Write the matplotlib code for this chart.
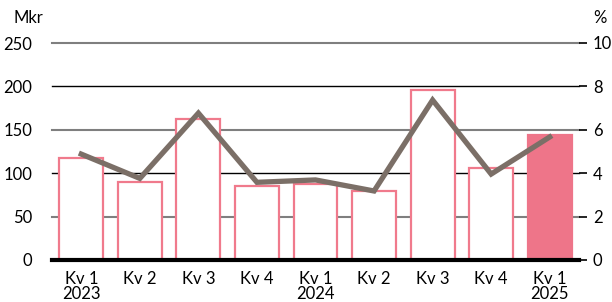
import matplotlib

matplotlib.use("Agg")
import matplotlib.pyplot as plt
import numpy as np

plt.rcParams["font.family"] = ["Lato", "DejaVu Sans"]

# Data
quarters = ["Kv 1\n2023", "Kv 2", "Kv 3", "Kv 4", "Kv 1\n2024",
            "Kv 2", "Kv 3", "Kv 4", "Kv 1\n2025"]
result_mkr = [117, 89.5, 162, 85.5, 87, 80, 196, 106, 144]   # bars, left axis
share_pct = [4.88, 3.76, 6.77, 3.58, 3.69, 3.18, 7.37, 3.96, 5.67]  # line, right axis
highlight = [False] * 8 + [True]

left_ticks = [0, 50, 100, 150, 200, 250]
right_ticks = [0, 2, 4, 6, 8, 10]

PINK = "#f07a8c"
PINK_FILL = "#ee7589"
LINE = "#7b6f67"
GRID_GRAY = "#7f7f7f"

fig = plt.figure(figsize=(6.12, 3.02), dpi=100)
ax = fig.add_axes([52 / 612, 1 - 260 / 302, (579 - 52) / 612, (260 - 43) / 302])
ax2 = ax.twinx()

x = np.arange(len(quarters))

# grid lines alternate gray / black
for v in left_ticks[1:]:
    major = v % 100 == 0
    ax.axhline(v, color="black" if major else GRID_GRAY,
               lw=1.0 if major else 1.5, zorder=0.5, clip_on=False)

for i, (xi, val) in enumerate(zip(x, result_mkr)):
    ax.bar(xi, val, width=0.75,
           facecolor=PINK_FILL if highlight[i] else "white",
           edgecolor=PINK_FILL if highlight[i] else PINK,
           linewidth=1.6, zorder=2)

ax.axhline(0, color="black", lw=3, zorder=3, clip_on=False)

ax.set_xlim(-0.5, len(quarters) - 0.5)
ax.set_ylim(0, 250)
ax.set_yticks(left_ticks)
ax.set_xticks(x)
ax.set_xticklabels(quarters, fontsize=12, linespacing=0.95)
ax.tick_params(axis="x", length=0, pad=8)
ax.tick_params(axis="y", length=0, pad=14, labelsize=12)
for s in ax.spines.values():
    s.set_visible(False)

ax2.plot(x, share_pct, color=LINE, lw=3.8, solid_joinstyle="miter", zorder=5)
ax2.set_ylim(0, 10)
ax2.set_yticks(right_ticks)
ax2.tick_params(axis="y", length=6, width=1.2, pad=4, labelsize=12)
for s in ax2.spines.values():
    s.set_visible(False)
ax.set_zorder(1)
ax.patch.set_visible(False)
ax2.set_zorder(2)

fig.text(14 / 612, 1 - 18 / 302, "Mkr", fontsize=12, va="center", ha="left")
fig.text(607 / 612, 1 - 18 / 302, "%", fontsize=12, va="center", ha="right")

fig.savefig("out.png", dpi=100)
